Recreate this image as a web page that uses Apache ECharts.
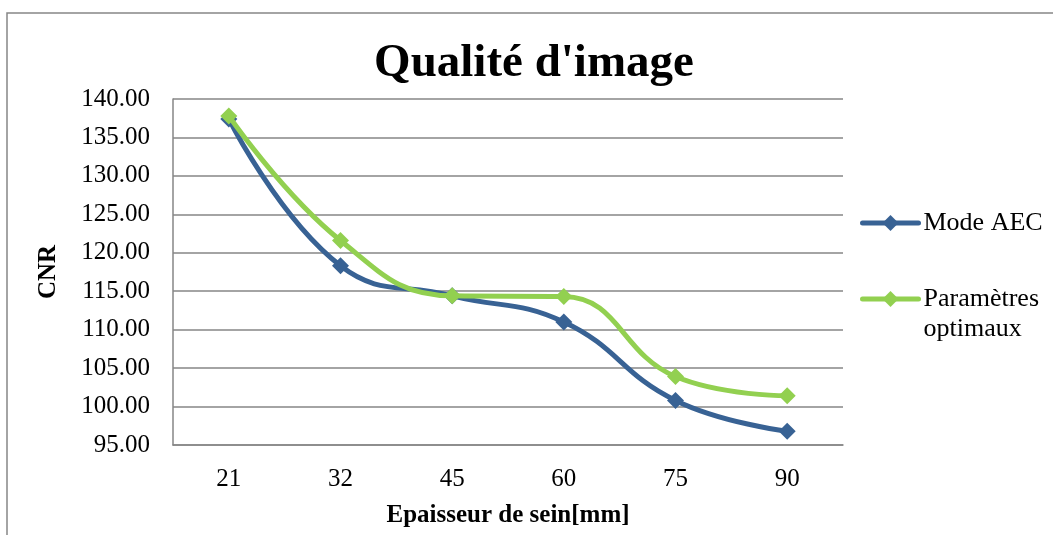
<!DOCTYPE html>
<html>
<head>
<meta charset="utf-8">
<script src="https://cdn.jsdelivr.net/npm/echarts@6/dist/echarts.min.js"></script>
<style>
  html, body { margin: 0; padding: 0; background: #fff; }
  #chart { width: 1053px; height: 535px; }
</style>
</head>
<body>
<div id="chart"></div>
<script>
// Breast thickness (mm) on the x axis
const thickness = ['21', '32', '45', '60', '75', '90'];
// CNR values per acquisition mode
const modeAEC = [137.4, 118.3, 114.4, 111.0, 100.8, 96.8];
const parametresOptimaux = [137.8, 121.6, 114.4, 114.3, 103.9, 101.4];

const serif = '"Liberation Serif", "Times New Roman", serif';
const blue = '#386294';
const green = '#92D050';
const gridGray = '#868686';

const chart = echarts.init(document.getElementById('chart'), null, { renderer: 'canvas' });

const legendText = { fontFamily: serif, fontSize: 26, color: '#000', lineHeight: 30 };

chart.setOption({
  animation: false,
  backgroundColor: '#fff',
  textStyle: { fontFamily: serif },
  title: {
    text: "Qualité d'image",
    left: 529,
    textAlign: 'center',
    top: 35,
    textStyle: { fontFamily: serif, fontSize: 47, fontWeight: 'bold', color: '#000' }
  },
  graphic: [{
    type: 'rect',
    shape: { x: 7, y: 13, width: 1200, height: 700 },
    style: { fill: 'none', stroke: gridGray, lineWidth: 1.5 },
    silent: true,
    z: -1
  }],
  legend: [
    {
      orient: 'vertical',
      left: 860,
      top: 208,
      padding: 0,
      itemWidth: 56,
      itemHeight: 20,
      data: ['Mode AEC'],
      lineStyle: { width: 5, cap: 'round' },
      textStyle: legendText
    },
    {
      orient: 'vertical',
      left: 860,
      top: 254,
      padding: 0,
      itemWidth: 56,
      itemHeight: 20,
      data: ['Paramètres optimaux'],
      lineStyle: { width: 5, cap: 'round' },
      // blank first line keeps the icon level with "Paramètres"
      formatter: () => '\nParamètres\noptimaux',
      textStyle: legendText
    }
  ],
  grid: { left: 173, right: 210, top: 99, bottom: 90, containLabel: false, outerBoundsMode: 'none' },
  xAxis: {
    type: 'category',
    data: thickness,
    boundaryGap: true,
    name: 'Epaisseur de sein[mm]',
    nameLocation: 'middle',
    nameGap: 58,
    nameTextStyle: { fontFamily: serif, fontSize: 25, fontWeight: 'bold', color: '#000' },
    axisLine: { lineStyle: { color: gridGray, width: 1.5 } },
    axisTick: { show: false },
    axisLabel: { fontFamily: serif, fontSize: 25, color: '#000', margin: 22 }
  },
  yAxis: {
    type: 'value',
    min: 95,
    max: 140,
    interval: 5,
    name: 'CNR',
    nameLocation: 'middle',
    nameGap: 112,
    nameRotate: 90,
    nameTextStyle: { fontFamily: serif, fontSize: 25, fontWeight: 'bold', color: '#000' },
    axisLine: { show: true, lineStyle: { color: gridGray, width: 1.5 } },
    axisTick: { show: false },
    axisLabel: { fontFamily: serif, fontSize: 25, color: '#000', margin: 23, formatter: v => v.toFixed(2) },
    splitLine: { lineStyle: { color: gridGray, width: 1.5 } }
  },
  series: [
    {
      name: 'Mode AEC',
      type: 'line',
      data: modeAEC,
      smooth: 0.45,
      symbol: 'diamond',
      symbolSize: 17,
      lineStyle: { color: blue, width: 5 },
      itemStyle: { color: blue },
      z: 2
    },
    {
      name: 'Paramètres optimaux',
      type: 'line',
      data: parametresOptimaux,
      smooth: 0.45,
      symbol: 'diamond',
      symbolSize: 17,
      lineStyle: { color: green, width: 5 },
      itemStyle: { color: green },
      z: 3
    }
  ]
});
</script>
</body>
</html>
